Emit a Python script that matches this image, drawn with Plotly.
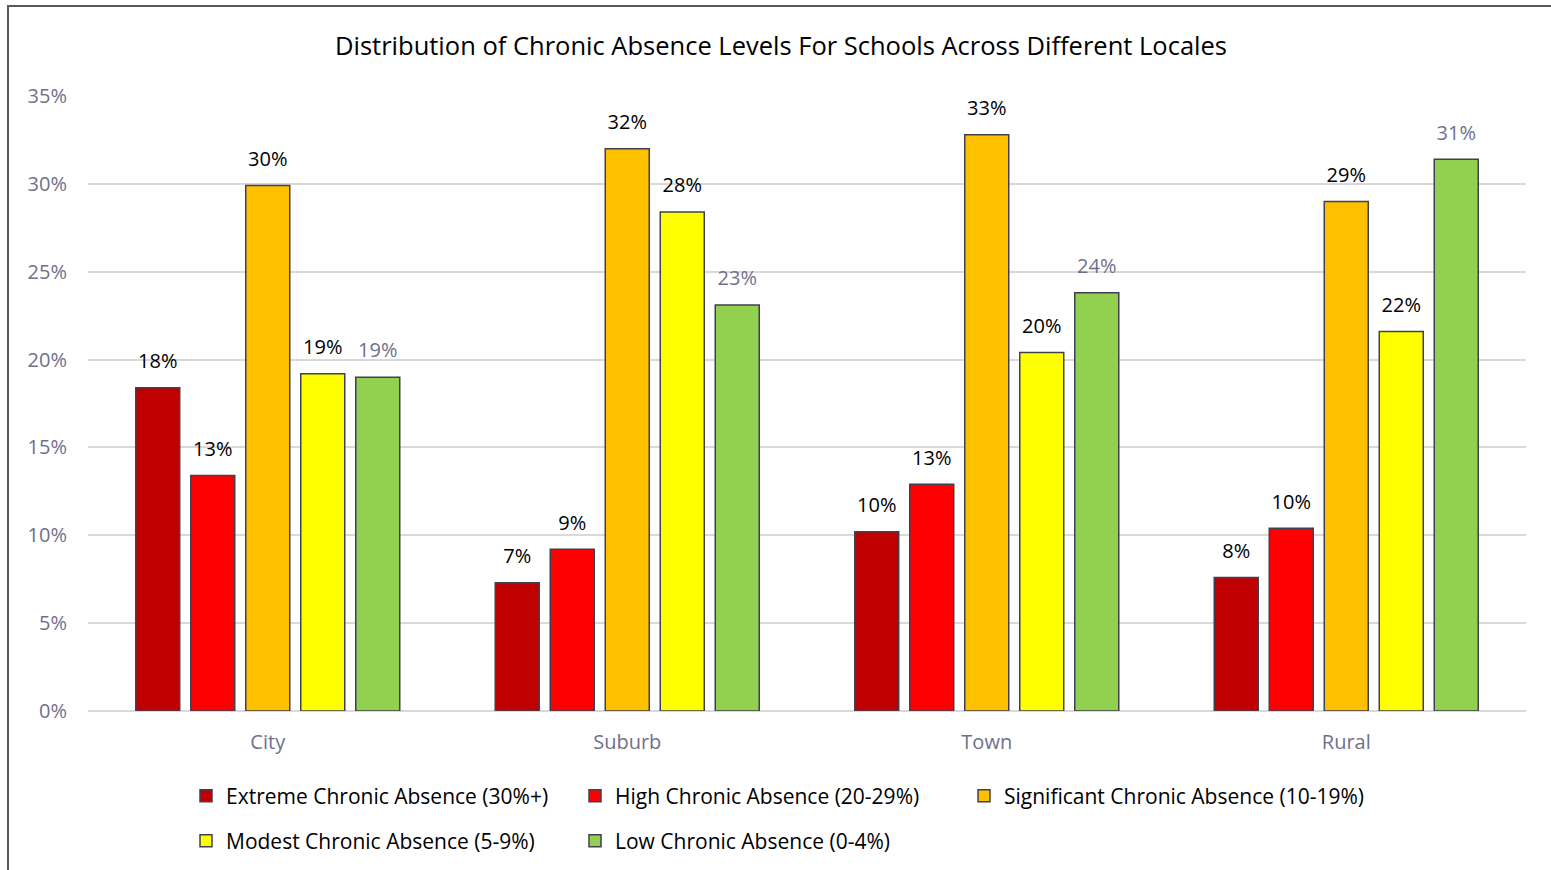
import plotly.graph_objects as go

# Share of schools in each chronic-absence level, by locale
locales = ["City", "Suburb", "Town", "Rural"]
levels = [
    "Extreme Chronic Absence (30%+)",
    "High Chronic Absence (20-29%)",
    "Significant Chronic Absence (10-19%)",
    "Modest Chronic Absence (5-9%)",
    "Low Chronic Absence (0-4%)",
]
extreme = [0.184, 0.073, 0.102, 0.076]
high = [0.134, 0.092, 0.129, 0.104]
significant = [0.299, 0.320, 0.328, 0.290]
modest = [0.192, 0.284, 0.204, 0.216]
low = [0.190, 0.231, 0.238, 0.314]
y_ticks = [0, 0.05, 0.10, 0.15, 0.20, 0.25, 0.30, 0.35]

series = [extreme, high, significant, modest, low]
colors = ["#C00000", "#FF0000", "#FFC000", "#FFFF00", "#92D050"]
label_colors = ["#000000", "#000000", "#000000", "#000000", "#70708C"]
legend_ids = ["legend", "legend", "legend3", "legend2", "legend2"]

FONT = "Open Sans"
GRAY = "#70708C"
OUTLINE = "#404050"
BARGAP = 0.235

fig = go.Figure()
for i, (name, vals, col, lg) in enumerate(zip(levels, series, colors, legend_ids)):
    fig.add_trace(go.Bar(
        name=name,
        x=locales,
        y=vals,
        offsetgroup=str(i),
        marker=dict(color=col, line=dict(color=OUTLINE, width=1.5)),
        legend=lg,
    ))

# Value labels, grouped like the bars and lifted above each bar top
for i, (vals, lcol) in enumerate(zip(series, label_colors)):
    fig.add_trace(go.Scatter(
        x=locales,
        y=vals,
        offsetgroup=str(i),
        mode="markers+text",
        marker=dict(size=22, color="rgba(0,0,0,0)"),
        text=vals,
        texttemplate="%{y:.0%}",
        textposition="top center",
        textfont=dict(family=FONT, size=20, color=lcol),
        cliponaxis=False,
        showlegend=False,
        hoverinfo="skip",
    ))

W, H = 1551, 870
L, R, T, B = 88, 25, 96, 159
pw, ph = W - L - R, H - T - B


def px_x(x):
    return (x - L) / pw


def px_y(y):
    return (H - B - y) / ph


legend_common = dict(
    orientation="h",
    xanchor="left",
    yanchor="middle",
    font=dict(family=FONT, size=21, color="#000000"),
    bgcolor="rgba(0,0,0,0)",
    itemclick=False,
)
row_entries = dict(entrywidth=344, entrywidthmode="pixels")

fig.update_layout(
    width=W,
    height=H,
    margin=dict(l=L, r=R, t=T, b=B, autoexpand=False),
    paper_bgcolor="white",
    plot_bgcolor="white",
    barmode="group",
    bargap=BARGAP,
    bargroupgap=0.2,
    scattermode="group",
    scattergap=BARGAP,
    title=dict(
        text="Distribution of Chronic Absence Levels For Schools Across Different Locales",
        x=781 / W, xref="container", xanchor="center",
        y=1 - 46 / H, yanchor="middle",
        font=dict(family=FONT, size=25.5, color="#000000"),
    ),
    xaxis=dict(
        showgrid=False,
        showline=False,
        ticks="",
        tickfont=dict(family=FONT, size=20, color=GRAY),
        ticklabelstandoff=17,
    ),
    yaxis=dict(
        range=[0, 0.35],
        tickvals=y_ticks,
        tickformat=".0%",
        showgrid=True,
        gridcolor="#D9D9D9",
        gridwidth=1.5,
        zeroline=True,
        zerolinecolor="#D9D9D9",
        zerolinewidth=1.5,
        showline=False,
        ticks="",
        tickfont=dict(family=FONT, size=20, color=GRAY),
        ticklabelstandoff=20,
    ),
    legend=dict(x=px_x(186), y=px_y(796), **row_entries, **legend_common),
    legend3=dict(x=px_x(964), y=px_y(796), **legend_common),
    legend2=dict(x=px_x(186), y=px_y(841), **row_entries, **legend_common),
    shapes=[
        dict(
            type="rect", xref="paper", yref="paper",
            x0=px_x(8), x1=px_x(1580), y0=px_y(900), y1=px_y(6),
            line=dict(color="#595959", width=2),
            fillcolor="rgba(0,0,0,0)",
            layer="below",
        )
    ],
)

fig.write_html("out.html")
